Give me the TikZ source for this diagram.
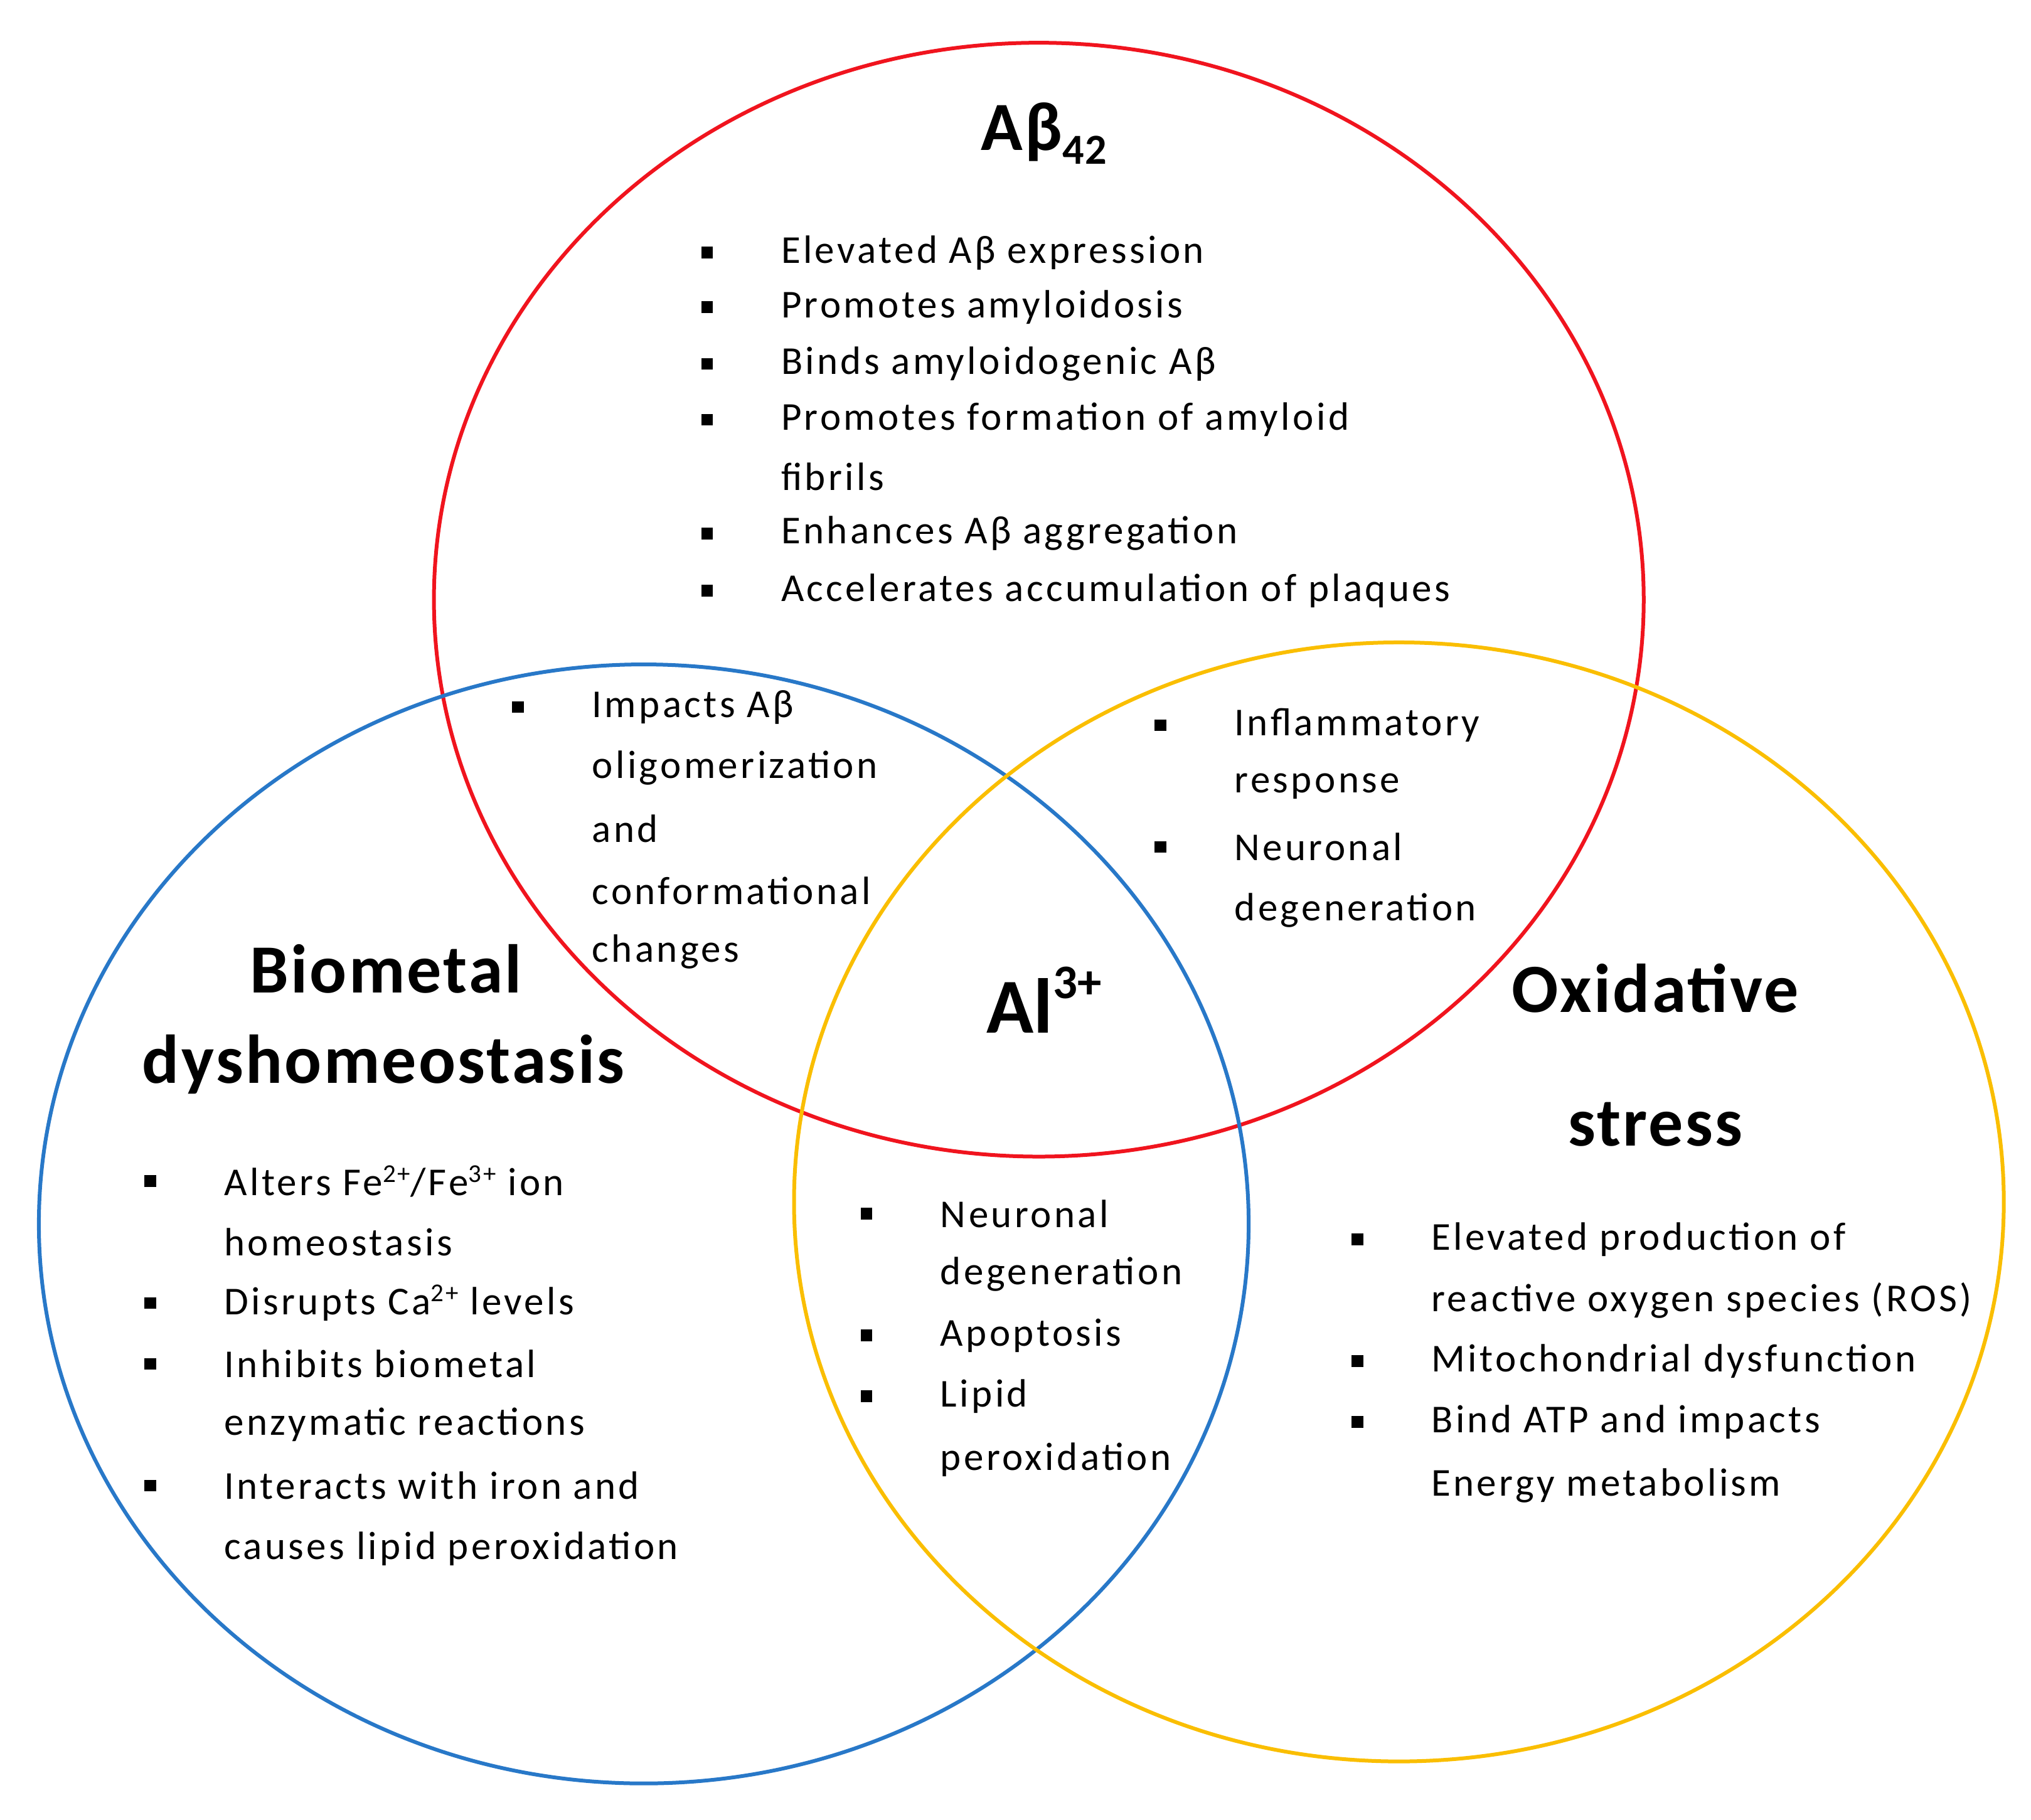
\documentclass[tikz,border=0pt]{standalone}
\usepackage{fontspec}
\setmainfont{Carlito}
\newcommand\sps[1]{\raisebox{0.33em}{\scalebox{0.65}{#1}}}
\newcommand\spt[1]{\raisebox{0.45em}{\scalebox{0.62}{#1}}}
\newcommand\sbs[1]{\raisebox{-0.2em}{\scalebox{0.62}{#1}}}
\begin{document}
\begin{tikzpicture}[x=2.0644pt,y=-2.0644pt,
  txt/.style={anchor=west,inner sep=0pt,font=\fontsize{63}{72}\selectfont\addfontfeature{LetterSpace=7}},
  ttl/.style={inner sep=0pt,font=\fontsize{110}{120}\selectfont\bfseries\addfontfeature{LetterSpace=3}},
  ring/.style={line width=6pt}]
\useasboundingbox (0,0) rectangle (1568,1405);
\definecolor{cred}{RGB}{240,20,30}
\definecolor{cblue}{RGB}{40,120,200}
\definecolor{cyel}{RGB}{250,190,0}
\draw[ring,cred] (802,463) ellipse [x radius=467,y radius=430];
\draw[ring,cblue] (497,945) ellipse [x radius=467,y radius=432];
\draw[ring,cyel] (1080,928) ellipse [x radius=467,y radius=432];
\newcommand\bul[2]{\fill (#1-4.5,#2-4.5) rectangle (#1+4.5,#2+4.5);}
\newcommand\lin[3]{\node[txt] at (#1,#2) {#3};}
% titles
\node[ttl] (t1) at (806,103) {Aβ\sbs{42}};
\node[ttl] (t2) at (298,748) {Biometal};
\node[ttl] (t3) at (296,822) {dyshomeostasis};
\node[ttl,font=\fontsize{124}{140}\selectfont\bfseries] (t4) at (806,772) {Al\spt{3+}};
\node[ttl] (t5) at (1278,763) {Oxidative};
\node[ttl] (t6) at (1278,868) {stress};
% top
\bul{546}{195}\lin{603}{195}{Elevated Aβ expression}
\bul{546}{237}\lin{603}{237}{Promotes amyloidosis}
\bul{546}{281}\lin{603}{281}{Binds amyloidogenic Aβ}
\bul{546}{324}\lin{603}{324}{Promotes formation of amyloid}
\lin{603}{368}{fibrils}
\bul{546}{412}\lin{603}{412}{Enhances Aβ aggregation}
\bul{546}{456}\lin{603}{456}{Accelerates accumulation of plaques}
% left overlap
\bul{400}{546}\lin{457}{546}{Impacts Aβ}
\lin{457}{593}{oligomerization}
\lin{457}{640}{and}
\lin{457}{688}{conformational}
\lin{457}{735}{changes}
% right overlap
\bul{896}{560}\lin{953}{560}{Inflammatory}
\lin{953}{607}{response}
\bul{896}{654}\lin{953}{654}{Neuronal}
\lin{953}{703}{degeneration}
% center
\bul{669}{937}\lin{726}{937}{Neuronal}
\lin{726}{984}{degeneration}
\bul{669}{1031}\lin{726}{1031}{Apoptosis}
\bul{669}{1078}\lin{726}{1078}{Lipid}
\lin{726}{1127}{peroxidation}
% biometal
\bul{116}{912}\lin{173}{912}{Alters Fe\sps{2+}/Fe\sps{3+} ion}
\lin{173}{959}{homeostasis}
\bul{116}{1006}\lin{173}{1006}{Disrupts Ca\sps{2+} levels}
\bul{116}{1053}\lin{173}{1053}{Inhibits biometal}
\lin{173}{1100}{enzymatic reactions}
\bul{116}{1147}\lin{173}{1147}{Interacts with iron and}
\lin{173}{1196}{causes lipid peroxidation}
% oxidative
\bul{1048}{957}\lin{1105}{957}{Elevated production of}
\lin{1105}{1004}{reactive oxygen species (ROS)}
\bul{1048}{1051}\lin{1105}{1051}{Mitochondrial dysfunction}
\bul{1048}{1098}\lin{1105}{1098}{Bind ATP and impacts}
\lin{1105}{1147}{Energy metabolism}
\end{tikzpicture}
\end{document}
